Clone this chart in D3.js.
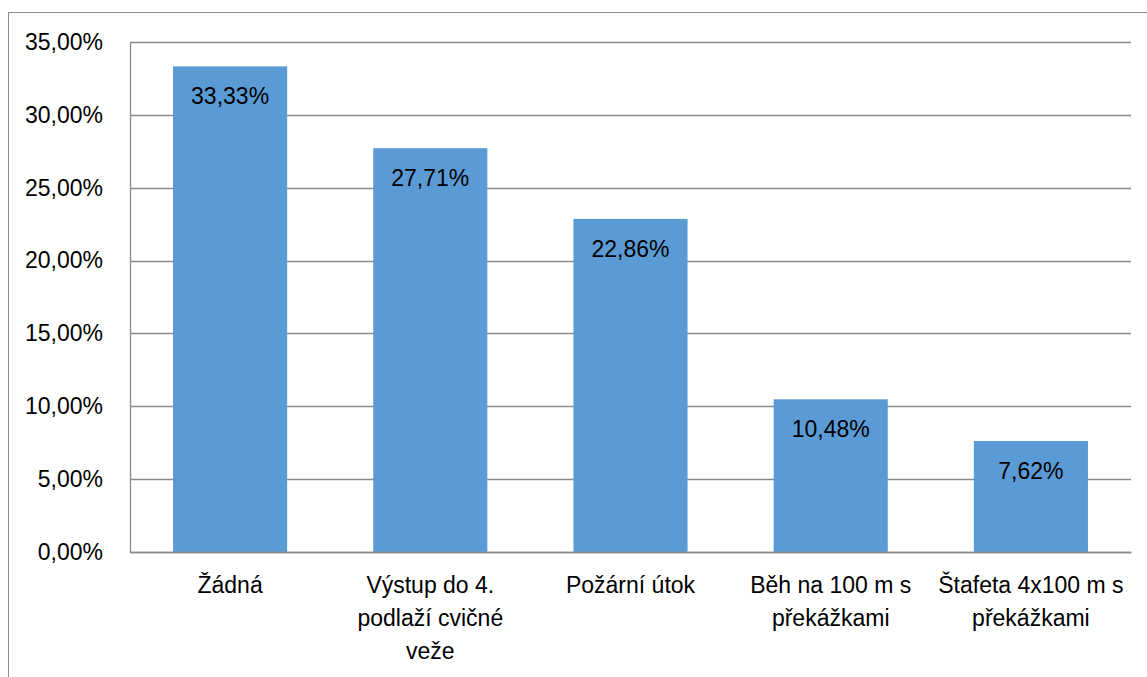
<!DOCTYPE html>
<html>
<head>
<meta charset="utf-8">
<script src="https://cdn.jsdelivr.net/npm/d3@7"></script>
<style>
  body { margin: 0; background: #fff; }
  svg { display: block; font-family: "Liberation Sans", Arial, sans-serif; }
</style>
</head>
<body>
<svg id="chart" width="1147" height="677"></svg>
<script>
// data
const categories = ["Žádná", "Výstup do 4. podlaží cvičné veže", "Požární útok", "Běh na 100 m s překážkami", "Štafeta 4x100 m s překážkami"];
const categoryLines = [
  ["Žádná"],
  ["Výstup do 4.", "podlaží cvičné", "veže"],
  ["Požární útok"],
  ["Běh na 100 m s", "překážkami"],
  ["Štafeta 4x100 m s", "překážkami"]
];
const values = [33.33, 27.71, 22.86, 10.48, 7.62];
const yTicks = [0, 5, 10, 15, 20, 25, 30, 35];

const margin = {top: 42, right: 16, bottom: 125, left: 130};
const W = 1147, H = 677;
const width = W - margin.left - margin.right;
const height = H - margin.top - margin.bottom;
const fontSize = 23;

const fmt = v => d3.format(".2f")(v).replace(".", ",") + "%";

const svg = d3.select("#chart");

// outer chart frame (runs off the page on right/bottom)
svg.append("rect")
  .attr("x", 8.5).attr("y", 12.5)
  .attr("width", 1160).attr("height", 700)
  .attr("fill", "none")
  .attr("stroke", "#8c8c8c")
  .attr("stroke-width", 1);

const g = svg.append("g")
  .attr("transform", `translate(${margin.left}, ${margin.top})`);

const x = d3.scaleBand()
  .domain(categories)
  .range([0, width])
  .paddingInner(0.43)
  .paddingOuter(0.215);

const y = d3.scaleLinear()
  .domain([0, 35])
  .range([height, 0]);

// gridlines
g.append("g")
  .selectAll("line")
  .data(yTicks)
  .join("line")
  .attr("x1", 0).attr("x2", width)
  .attr("y1", d => Math.round(y(d)) + 0.5)
  .attr("y2", d => Math.round(y(d)) + 0.5)
  .attr("stroke", "#8a8a8a")
  .attr("stroke-width", 1.3);

// y axis
const yAxis = g.append("g")
  .call(d3.axisLeft(y).tickValues(yTicks).tickSize(0).tickPadding(27).tickFormat(fmt));
yAxis.select(".domain").attr("stroke", "#8a8a8a").attr("stroke-width", 1.3);
yAxis.selectAll("text")
  .attr("font-size", fontSize)
  .attr("fill", "#000")
  .attr("font-family", "Liberation Sans, Arial, sans-serif");

// bars
g.selectAll("rect.bar")
  .data(values)
  .join("rect")
  .attr("class", "bar")
  .attr("x", (d, i) => x(categories[i]))
  .attr("y", d => y(d))
  .attr("width", x.bandwidth())
  .attr("height", d => height - y(d))
  .attr("fill", "#5b9bd5");

// data labels
g.selectAll("text.lbl")
  .data(values)
  .join("text")
  .attr("class", "lbl")
  .attr("x", (d, i) => x(categories[i]) + x.bandwidth() / 2)
  .attr("y", d => y(d) + 38)
  .attr("text-anchor", "middle")
  .attr("font-size", fontSize)
  .attr("fill", "#000")
  .text(d => fmt(d));

// x axis
const xAxis = g.append("g")
  .attr("transform", `translate(0, ${height})`)
  .call(d3.axisBottom(x).tickSize(0).tickFormat(""));
xAxis.select(".domain").attr("stroke", "#8a8a8a").attr("stroke-width", 1.3);

xAxis.selectAll(".tick")
  .each(function(d, i) {
    const t = d3.select(this).append("text")
      .attr("text-anchor", "middle")
      .attr("font-size", fontSize)
      .attr("fill", "#000");
    categoryLines[i].forEach((line, j) => {
      t.append("tspan")
        .attr("x", 0)
        .attr("y", 41 + j * 33)
        .text(line);
    });
  });
</script>
</body>
</html>
